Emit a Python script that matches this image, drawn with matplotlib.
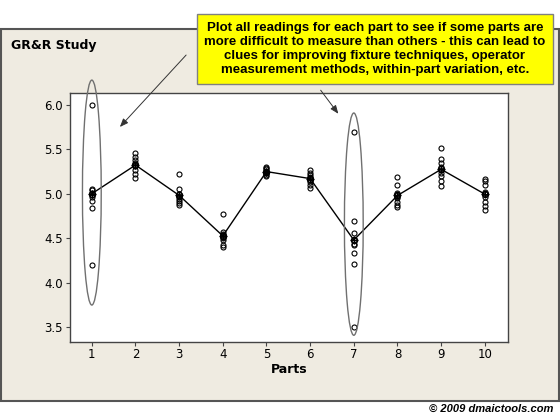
import matplotlib
matplotlib.use("Agg")
import matplotlib.pyplot as plt
from matplotlib.patches import Rectangle, Ellipse
import numpy as np

parts = [1, 2, 3, 4, 5, 6, 7, 8, 9, 10]
readings = [
    [6.00, 5.06, 5.04, 5.01, 4.99, 4.96, 4.92, 4.84, 4.20],
    [5.46, 5.42, 5.38, 5.35, 5.33, 5.31, 5.27, 5.22, 5.18],
    [5.22, 5.05, 5.00, 4.98, 4.96, 4.94, 4.92, 4.90, 4.88],
    [4.77, 4.57, 4.55, 4.54, 4.52, 4.50, 4.48, 4.42, 4.40],
    [5.30, 5.29, 5.28, 5.26, 5.25, 5.24, 5.23, 5.21, 5.20],
    [5.27, 5.24, 5.21, 5.19, 5.18, 5.16, 5.13, 5.10, 5.07],
    [5.70, 4.69, 4.56, 4.48, 4.44, 4.42, 4.33, 4.21, 3.50],
    [5.19, 5.10, 5.01, 4.99, 4.97, 4.95, 4.91, 4.87, 4.85],
    [5.52, 5.39, 5.35, 5.30, 5.27, 5.23, 5.20, 5.14, 5.09],
    [5.17, 5.14, 5.10, 5.02, 5.00, 4.96, 4.91, 4.86, 4.82],
]
yticks = [3.5, 4.0, 4.5, 5.0, 5.5, 6.0]
title = "GR&R Study"
xlabel = "Parts"
note = ("Plot all readings for each part to see if some parts are\n"
        "more difficult to measure than others - this can lead to\n"
        "clues for improving fixture techniques, operator\n"
        "measurement methods, within-part variation, etc.")
copyright_txt = "\u00a9 2009 dmaictools.com"
# highlighted parts: (part, centre value, height in value units)
circled_parts = [1, 7]
circle_centres = [5.015, 4.66]
circle_heights = [2.53, 2.50]

W, H = 560, 420
fig = plt.figure(figsize=(W / 100, H / 100), dpi=100)
fig.patch.set_facecolor("white")


def fx(x):
    return x / W


def fy(y):
    return 1 - y / H


# beige panel
fig.add_artist(Rectangle((fx(0.5), fy(401)), fx(558), (401 - 29) / H,
                         transform=fig.transFigure, facecolor="#EFEBE1",
                         edgecolor="#555555", lw=1.5, zorder=0))

ax = fig.add_axes([fx(70), fy(341.5), fx(507.5 - 70), (341.5 - 93) / H])
ax.set_facecolor("white")
for s in ax.spines.values():
    s.set_color("#444444")
    s.set_linewidth(1.0)

for p, vals in zip(parts, readings):
    ax.plot([p] * len(vals), vals, linestyle="none", marker="o", ms=3.6,
            mfc="none", mec="black", mew=0.8, zorder=3)

means = [np.mean(v) for v in readings]
ax.plot(parts, means, color="black", lw=1.0, zorder=2)
ax.plot(parts, means, linestyle="none", marker="o", ms=4.5, mfc="none",
        mec="black", mew=0.9, zorder=4)
ax.plot(parts, means, linestyle="none", marker="+", ms=6, mec="black",
        mew=0.8, zorder=4)

for p, cy, h in zip(circled_parts, circle_centres, circle_heights):
    ax.add_patch(Ellipse((p, cy), 0.43, h, facecolor="none",
                         edgecolor="#707070", lw=1.0, clip_on=False, zorder=5))

ax.set_xlim(0.5, 10.52)
ax.set_ylim(3.34, 6.135)
ax.set_xticks(parts)
ax.set_yticks(yticks)
ax.set_yticklabels([f"{t:.1f}" for t in yticks])
ax.tick_params(direction="out", length=3, width=0.8, color="#444444",
               labelsize=8.5, pad=2)
ax.set_xlabel(xlabel, fontsize=9, fontweight="bold", labelpad=1)

fig.text(fx(11), fy(45), title, fontsize=9, fontweight="bold",
         va="center", ha="left")

# yellow note box
fig.add_artist(Rectangle((fx(197), fy(84)), fx(553 - 197), (84 - 14) / H,
                         transform=fig.transFigure, facecolor="#FFFF00",
                         edgecolor="#808080", lw=1.0, zorder=10))
fig.text(fx(375), fy(49), note, family="Liberation Sans", fontweight="bold",
         fontsize=9.5, ha="center", va="center", linespacing=1.2, zorder=11)

# arrows
arrow_kw = dict(arrowstyle="-|>,head_length=0.5,head_width=0.2", color="#333333",
                lw=0.7)
ax.annotate("", xy=(118, H - 129), xycoords="figure pixels",
            xytext=(188, H - 53), textcoords="figure pixels",
            arrowprops=arrow_kw, annotation_clip=False)
ax.annotate("", xy=(340, H - 116), xycoords="figure pixels",
            xytext=(319, H - 88), textcoords="figure pixels",
            arrowprops=arrow_kw, annotation_clip=False)

fig.text(fx(553), fy(409), copyright_txt, family="Liberation Sans",
         fontweight="bold", style="italic", fontsize=8, ha="right", va="center")

fig.savefig("out.png", dpi=100)
